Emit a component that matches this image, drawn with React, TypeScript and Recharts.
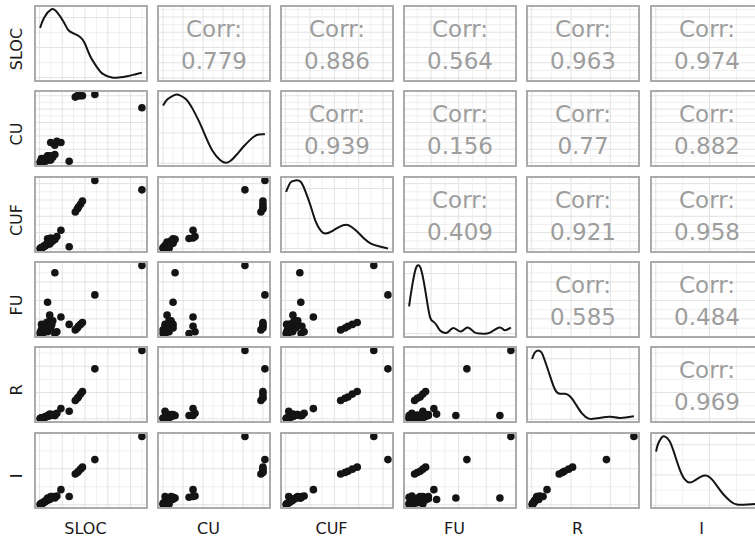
import React from 'react';
import { ScatterChart, Scatter, LineChart, Line, XAxis, YAxis, CartesianGrid } from 'recharts';

// ---------- data ----------
const VAR_NAMES = ['SLOC', 'CU', 'CUF', 'FU', 'R', 'I'];

const SLOC = [22480, 12160, 7870, 8320, 8560, 9010, 9440, 6530, 4720, 2480, 3370, 3830, 3390, 1790, 2260, 150, 230, 440, 690, 670, 910, 1120, 1140, 1350, 1560, 1590, 1810, 2030, 2240, 2470, 2710, 2930, 460];
const CU = [41, 51, 49, 50, 50, 50, 50, 1, 15, 15, 13, 16, 6, 5, 2, 0, 1, 0, 1, 2, 1, 2, 3, 1, 3, 4, 2, 5, 3, 2, 5, 4, 3];
const CUF = [1810, 2100, 1130, 1220, 1280, 1370, 1470, 65, 570, 335, 318, 380, 292, 312, 150, 10, 22, 40, 45, 60, 66, 85, 100, 108, 125, 150, 145, 170, 190, 208, 230, 250, 20];
const FU = [39, 23, 4, 5, 6, 7, 8, 7, 11, 6, 2, 3, 35, 19, 12, 2, 3, 4, 2, 5, 3, 6, 3, 6, 4, 8, 3, 5, 9, 5, 7, 9, 7];
const R = [260, 190, 70, 78, 83, 94, 104, 29, 39, 13, 13, 21, 13, 13, 18, 1, 2, 3, 3, 4, 5, 5, 7, 8, 8, 9, 10, 12, 13, 14, 16, 16, 3];
const I = [380, 251, 171, 179, 186, 198, 209, 46, 84, 46, 42, 49, 38, 38, 29, 1, 4, 8, 8, 11, 11, 15, 19, 19, 23, 27, 27, 30, 34, 38, 42, 46, 4];

// density curves (x in variable units, y relative density)
const SLOC_DENS_X = [150, 1130, 2610, 3720, 5290, 6290, 7410, 8860, 9980, 11090, 12650, 13990, 15890, 17340, 19240, 21140, 22480];
const SLOC_DENS_Y = [0.73, 0.89, 1.0, 0.97, 0.82, 0.70, 0.65, 0.60, 0.50, 0.32, 0.15, 0.05, 0.0, 0.0, 0.02, 0.05, 0.07];
const CU_DENS_X = [0, 2.2, 5.6, 6.9, 8.2, 11.5, 14.8, 18.3, 21.6, 25.0, 28.4, 30.9, 33.5, 36.7, 40.2, 43.6, 46.9, 51];
const CU_DENS_Y = [0.84, 0.93, 0.99, 1.0, 0.99, 0.93, 0.79, 0.59, 0.37, 0.17, 0.05, 0.01, 0.03, 0.12, 0.24, 0.34, 0.41, 0.42];
const CUF_DENS_X = [10, 102, 204, 309, 407, 516, 616, 725, 825, 965, 1103, 1243, 1348, 1483, 1623, 1761, 1933, 2100];
const CUF_DENS_Y = [0.83, 0.97, 1.0, 0.98, 0.84, 0.62, 0.40, 0.26, 0.22, 0.26, 0.32, 0.35, 0.32, 0.24, 0.14, 0.07, 0.03, 0.0];
const FU_DENS_X = [2, 3.0, 4.2, 5.1, 6.1, 7.3, 8.5, 9.7, 11.0, 12.2, 13.4, 15.2, 16.4, 18.3, 20.8, 23.2, 25.7, 28.1, 31.2, 34.8, 36.7, 39];
const FU_DENS_Y = [0.40, 0.67, 0.92, 1.0, 0.97, 0.77, 0.48, 0.23, 0.17, 0.11, 0.04, 0.01, 0.03, 0.08, 0.03, 0.09, 0.02, 0.0, 0.01, 0.09, 0.05, 0.09];
const R_DENS_X = [1, 8, 16.5, 25.1, 33.6, 46.6, 59.5, 72.2, 85.2, 97.9, 110.8, 127.9, 145, 161.6, 183.6, 200.4, 222.2, 239.3, 260];
const R_DENS_Y = [0.875, 0.97, 1.0, 0.97, 0.85, 0.63, 0.43, 0.37, 0.37, 0.33, 0.23, 0.085, 0.01, 0.01, 0.03, 0.036, 0.02, 0.026, 0.045];
const I_DENS_X = [1, 7.4, 20, 32.5, 51.4, 69.2, 88.2, 107.1, 126.1, 145, 170.4, 189.4, 207.9, 226.9, 251.1, 277.7, 302.3, 339.8, 371.3, 380];
const I_DENS_Y = [0.78, 0.88, 0.975, 1.0, 0.93, 0.75, 0.53, 0.38, 0.33, 0.36, 0.42, 0.43, 0.38, 0.285, 0.16, 0.06, 0.01, 0.01, 0.02, 0.03];

// correlation labels (upper triangle, row by row)
const CORR_SLOC = ['0.779', '0.886', '0.564', '0.963', '0.974'];
const CORR_CU = ['0.939', '0.156', '0.77', '0.882'];
const CORR_CUF = ['0.409', '0.921', '0.958'];
const CORR_FU = ['0.585', '0.484'];
const CORR_R = ['0.969'];

// grid breaks
const SLOC_MAJOR = [0, 5000, 10000, 15000, 20000];
const SLOC_MINOR = [2500, 7500, 12500, 17500, 22500];
const CU_MAJOR = [0, 10, 20, 30, 40, 50];
const CU_MINOR = [5, 15, 25, 35, 45];
const CUF_MAJOR = [0, 500, 1000, 1500, 2000];
const CUF_MINOR = [250, 750, 1250, 1750];
const FU_MAJOR = [10, 20, 30];
const FU_MINOR = [5, 15, 25, 35];
const R_MAJOR = [0, 100, 200];
const R_MINOR = [50, 150, 250];
const I_MAJOR = [0, 200];
const I_MINOR = [100, 300];
const DENS_MAJOR = [0, 0.44, 0.88];
const DENS_MINOR = [0.22, 0.66];

// ---------- assembly ----------
const VALUES: Record<string, number[]> = { SLOC, CU, CUF, FU, R, I };
const DENS: Record<string, { x: number; y: number }[]> = {
  SLOC: SLOC_DENS_X.map((x, i) => ({ x, y: SLOC_DENS_Y[i] })),
  CU: CU_DENS_X.map((x, i) => ({ x, y: CU_DENS_Y[i] })),
  CUF: CUF_DENS_X.map((x, i) => ({ x, y: CUF_DENS_Y[i] })),
  FU: FU_DENS_X.map((x, i) => ({ x, y: FU_DENS_Y[i] })),
  R: R_DENS_X.map((x, i) => ({ x, y: R_DENS_Y[i] })),
  I: I_DENS_X.map((x, i) => ({ x, y: I_DENS_Y[i] })),
};
const MAJOR: Record<string, number[]> = { SLOC: SLOC_MAJOR, CU: CU_MAJOR, CUF: CUF_MAJOR, FU: FU_MAJOR, R: R_MAJOR, I: I_MAJOR };
const MINOR: Record<string, number[]> = { SLOC: SLOC_MINOR, CU: CU_MINOR, CUF: CUF_MINOR, FU: FU_MINOR, R: R_MINOR, I: I_MINOR };
const CORR: string[][] = [CORR_SLOC, CORR_CU, CORR_CUF, CORR_FU, CORR_R];

const expand = (arr: number[]): [number, number] => {
  const lo = Math.min(...arr);
  const hi = Math.max(...arr);
  const pad = (hi - lo) * 0.05;
  return [lo - pad, hi + pad];
};
const inDomain = (ticks: number[], d: [number, number]) => ticks.filter((t) => t >= d[0] && t <= d[1]);

// ---------- layout ----------
const PANEL_W = 112;
const PANEL_H = 75;
const COL_X = [35, 158, 281, 404, 527, 651];
const ROW_Y = [6, 91, 177, 262, 347, 433];
const FONT = "'DejaVu Sans', 'Liberation Sans', sans-serif";
const MARGIN = { top: 0, right: 0, bottom: 0, left: 0 };

const Dot = (p: any) => <circle cx={p.cx} cy={p.cy} r={3.8} fill="#141414" />;
const NoShape = () => <g />;

const axisCommon = {
  type: 'number' as const,
  allowDataOverflow: true,
  interval: 0 as const,
  tick: { fontSize: 0, fill: 'none' },
  tickLine: false,
  axisLine: false,
};

// a chart layer that only draws grid lines at the given breaks
function GridLayer({ xd, yd, xt, yt, stroke }: { xd: [number, number]; yd: [number, number]; xt: number[]; yt: number[]; stroke: string }) {
  return (
    <ScatterChart width={PANEL_W} height={PANEL_H} margin={MARGIN}>
      <XAxis dataKey="x" domain={xd} ticks={inDomain(xt, xd)} height={0} {...axisCommon} />
      <YAxis dataKey="y" domain={yd} ticks={inDomain(yt, yd)} width={0} {...axisCommon} />
      <CartesianGrid stroke={stroke} strokeWidth={1} />
      <Scatter data={[{ x: xd[0], y: yd[0] }]} shape={NoShape} isAnimationActive={false} />
    </ScatterChart>
  );
}

function Panel({ row, col }: { row: number; col: number }) {
  const xv = VAR_NAMES[col];
  const yv = VAR_NAMES[row];
  const xd = expand(VALUES[xv]);
  const layer: React.CSSProperties = { position: 'absolute', left: 0, top: 0 };
  let yd: [number, number];
  let yMaj: number[];
  let yMin: number[];
  let content: React.ReactNode = null;
  if (row === col) {
    const dens = DENS[xv];
    yd = expand(dens.map((d) => d.y));
    yMaj = DENS_MAJOR;
    yMin = DENS_MINOR;
    content = (
      <LineChart width={PANEL_W} height={PANEL_H} data={dens} margin={MARGIN}>
        <XAxis dataKey="x" domain={xd} ticks={inDomain(MAJOR[xv], xd)} height={0} {...axisCommon} />
        <YAxis dataKey="y" domain={yd} ticks={inDomain(yMaj, yd)} width={0} {...axisCommon} />
        <CartesianGrid stroke="#e2e2e2" strokeWidth={1} />
        <Line dataKey="y" type="natural" stroke="#141414" strokeWidth={2} dot={false} isAnimationActive={false} />
      </LineChart>
    );
  } else {
    yd = expand(VALUES[yv]);
    yMaj = MAJOR[yv];
    yMin = MINOR[yv];
    const pts = row > col ? VALUES[xv].map((x, i) => ({ x, y: VALUES[yv][i] })) : [{ x: xd[0], y: yd[0] }];
    content = (
      <ScatterChart width={PANEL_W} height={PANEL_H} margin={MARGIN}>
        <XAxis dataKey="x" domain={xd} ticks={inDomain(MAJOR[xv], xd)} height={0} {...axisCommon} />
        <YAxis dataKey="y" domain={yd} ticks={inDomain(yMaj, yd)} width={0} {...axisCommon} />
        <CartesianGrid stroke="#e2e2e2" strokeWidth={1} />
        <Scatter data={pts} shape={row > col ? Dot : NoShape} isAnimationActive={false} />
      </ScatterChart>
    );
  }
  return (
    <div style={{ position: 'absolute', left: COL_X[col], top: ROW_Y[row], width: PANEL_W, height: PANEL_H }}>
      <div style={layer}>
        <GridLayer xd={xd} yd={yd} xt={MINOR[xv]} yt={yMin} stroke="#f0f0f0" />
      </div>
      <div style={layer}>{content}</div>
    </div>
  );
}

export default function App() {
  const panels: React.ReactNode[] = [];
  const borders: React.ReactNode[] = [];
  for (let r = 0; r < 6; r++) {
    for (let c = 0; c < 6; c++) {
      panels.push(<Panel key={`p${r}-${c}`} row={r} col={c} />);
      borders.push(
        <div
          key={`b${r}-${c}`}
          style={{
            position: 'absolute',
            left: COL_X[c] - 1,
            top: ROW_Y[r] - 1,
            width: PANEL_W + 2,
            height: PANEL_H + 2,
            border: '2px solid #ababab',
            boxSizing: 'border-box',
            pointerEvents: 'none',
          }}
        />
      );
    }
  }
  return (
    <div style={{ position: 'absolute', left: 0, top: 0, width: 755, height: 540, overflow: 'hidden', background: '#ffffff', fontFamily: FONT }}>
      {panels}
      {borders}
      <svg width={755} height={540} style={{ position: 'absolute', left: 0, top: 0, pointerEvents: 'none' }}>
        {VAR_NAMES.map((name, c) => (
          <text key={`xl${c}`} x={COL_X[c] + PANEL_W / 2 - 5.5} y={534} textAnchor="middle" fontFamily={FONT} fontSize={16} fill="#1a1a1a">
            {name}
          </text>
        ))}
        {VAR_NAMES.map((name, r) => (
          <text key={`yl${r}`} transform={`translate(21.5, ${ROW_Y[r] + PANEL_H / 2 + 5.5}) rotate(-90)`} textAnchor="middle" fontFamily={FONT} fontSize={16} fill="#1a1a1a">
            {name}
          </text>
        ))}
        {CORR.map((rowVals, r) =>
          rowVals.map((v, k) => {
            const c = r + 1 + k;
            const cx = COL_X[c] + PANEL_W / 2;
            return (
              <g key={`cr${r}-${c}`}>
                <text x={cx} y={ROW_Y[r] + 31} textAnchor="middle" fontFamily={FONT} fontSize={23} fill="#9d9d9d">Corr:</text>
                <text x={cx} y={ROW_Y[r] + 62.5} textAnchor="middle" fontFamily={FONT} fontSize={23} fill="#9d9d9d">{v}</text>
              </g>
            );
          })
        )}
      </svg>
    </div>
  );
}
